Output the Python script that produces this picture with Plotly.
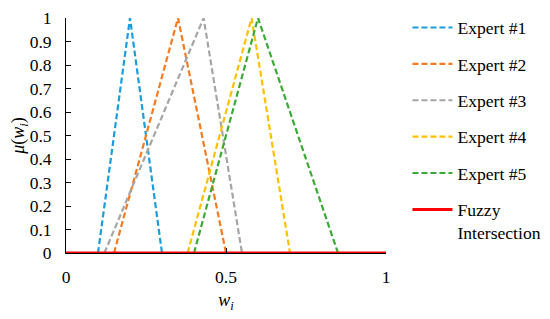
import plotly.graph_objects as go

names = ["Expert #1", "Expert #2", "Expert #3", "Expert #4", "Expert #5"]
x_points = [
    [0.10, 0.20, 0.30],
    [0.15, 0.35, 0.50],
    [0.12, 0.43, 0.55],
    [0.38, 0.58, 0.70],
    [0.40, 0.60, 0.85],
]
y_points = [0, 1, 0]
colors = ["#1B9DDB", "#F47B20", "#A5A5A5", "#FFC000", "#3AAA35"]
fuzzy_x = [0, 1]
fuzzy_y = [0, 0]

FONT = "Times New Roman, Liberation Serif, serif"

fig = go.Figure()
for i, (n, xs, c) in enumerate(zip(names, x_points, colors)):
    fig.add_trace(go.Scatter(x=xs, y=y_points, mode="lines", name=n,
                             legendgroup=f"g{i}",
                             line=dict(color=c, width=2.2, dash="6px,3px")))
fig.add_trace(go.Scatter(x=fuzzy_x, y=fuzzy_y, mode="lines",
                         name="Fuzzy<br>Intersection", legendgroup="g5",
                         line=dict(color="#FF0000", width=3)))

fig.update_layout(
    width=542, height=311,
    margin=dict(l=58, r=164, t=10, b=66, autoexpand=False),
    paper_bgcolor="white", plot_bgcolor="white",
    font=dict(family=FONT, size=17.5, color="black"),
    showlegend=True,
    legend=dict(x=1.067, y=1.036, xanchor="left", yanchor="top",
                tracegroupgap=10.5, valign="top", maxheight=400,
                font=dict(family=FONT, size=17.6, color="black"),
                itemwidth=40),
    xaxis=dict(range=[0, 1], tickvals=[0, 0.5, 1], ticktext=["0", "0.5", "1"],
               showgrid=False, zeroline=False, showline=True, linecolor="black",
               linewidth=1, ticks="inside", ticklen=5, tickcolor="black",
               ticklabelstandoff=8,
               title=dict(text="<i>w<sub>i</sub></i>", standoff=7,
                          font=dict(family=FONT, size=18))),
    yaxis=dict(range=[0, 1], dtick=0.1, tick0=0,
               showgrid=False, zeroline=False, showline=True, linecolor="black",
               linewidth=1, ticks="inside", ticklen=5, tickcolor="black",
               ticklabelstandoff=10,
               title=dict(text="<i>μ</i>(<i>w<sub>i</sub></i>)", standoff=12,
                          font=dict(family=FONT, size=18))),
)

fig.write_html("out.html")
